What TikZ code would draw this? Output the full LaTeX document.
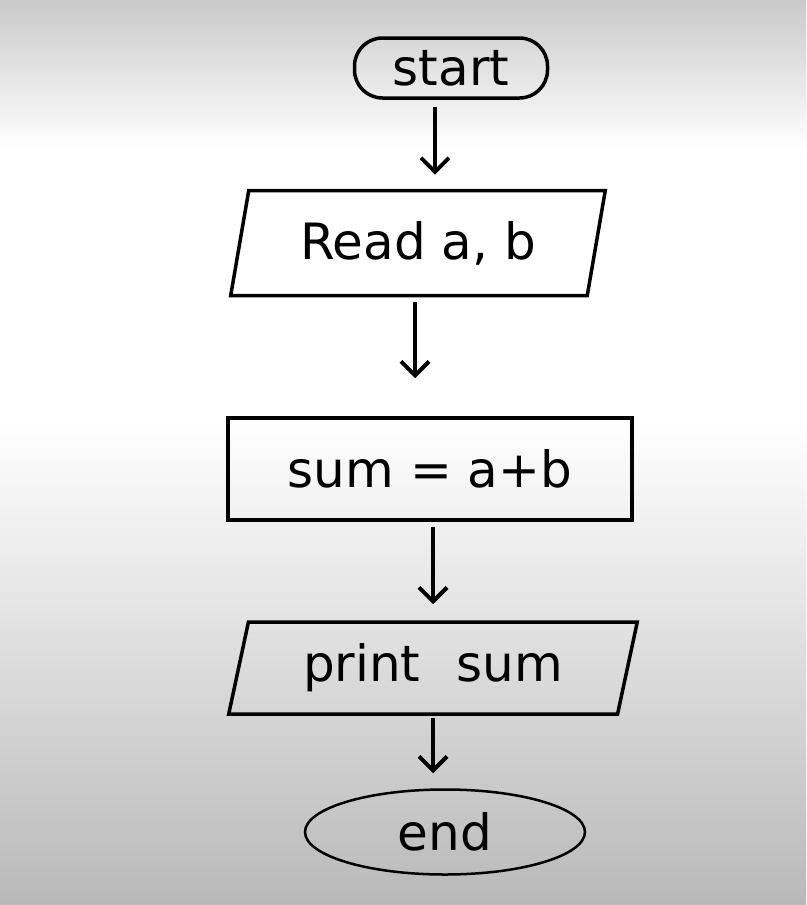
\documentclass[tikz,border=0pt]{standalone}
\usepackage{fontspec}
\setmainfont{DejaVu Sans}
\usetikzlibrary{shapes.geometric,arrows.meta}
\begin{document}
\begin{tikzpicture}[x=1pt,y=-1pt,
  shp/.style={draw=black,line width=3.5pt,font=\fontsize{50}{56}\selectfont,inner sep=0pt},
  io/.style={shp,trapezium,trapezium left angle=74,trapezium right angle=106,trapezium stretches=true},
  conn/.style={draw=black,line width=4pt,-{Straight Barb[length=14pt,width=28pt,line width=4pt]}}]
\useasboundingbox (0,0) rectangle (806,905);
\fill[top color=gray!42,bottom color=white] (0,0) rectangle (806,150);
\fill[white] (0,150) rectangle (806,420);
\fill[top color=white,bottom color=gray!55] (0,420) rectangle (806,905);
\node[shp,rounded corners=28pt,minimum width=193pt,minimum height=60pt] (start) at (451,68) {start};
\node[io,minimum width=375pt,minimum height=105pt] (read) at (418,243) {Read a, b};
\node[shp,rectangle,minimum width=404pt,minimum height=102pt] (sum) at (430,469) {sum = a+b};
\node[io,minimum width=410pt,minimum height=92pt] (print) at (433,668) {print\hspace{36pt}sum};
\node[shp,ellipse,line width=2.5pt,minimum width=280pt,minimum height=85pt] (end) at (445,832) {end};
\draw[conn] ([xshift=-16pt,yshift=-7pt]start.south) -- ([xshift=-16pt,yshift=14pt]start.south |- read.north);
\draw[conn] ([xshift=-3pt,yshift=-5pt]read.south) -- ([xshift=-3pt,yshift=38pt]read.south |- sum.north);
\draw[conn] ([xshift=3pt,yshift=-5pt]sum.south) -- ([xshift=3pt,yshift=16pt]sum.south |- print.north);
\draw[conn] ([yshift=-2pt]print.south) -- ([yshift=15pt]print.south |- end.north);
\end{tikzpicture}
\end{document}
